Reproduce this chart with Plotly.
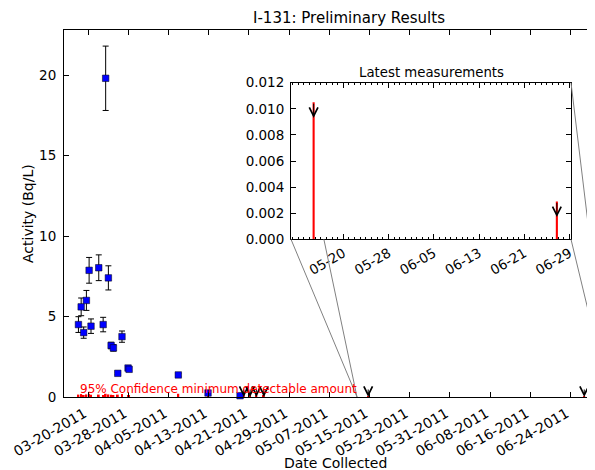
import plotly.graph_objects as go
import pandas as pd

# ---------------- data ----------------
det_dates = ["2011-03-18 02:00", "2011-03-18 15:00", "2011-03-19 03:00", "2011-03-19 16:00",
             "2011-03-20 05:00", "2011-03-20 14:00", "2011-03-22 03:00", "2011-03-23 00:00",
             "2011-03-23 12:00", "2011-03-24 01:00", "2011-03-24 14:00", "2011-03-25 01:00",
             "2011-03-25 22:00", "2011-03-26 18:00", "2011-03-27 23:00", "2011-03-28 04:00",
             "2011-04-06 23:00", "2011-04-12 21:00", "2011-04-19 06:00"]
det_vals = [4.5, 5.6, 4.0, 6.0, 7.87, 4.4, 8.03, 4.5, 19.8, 7.4, 3.2, 3.05, 1.47, 3.75,
            1.8, 1.72, 1.37, 0.25, 0.08]
det_errs = [0.49, 0.55, 0.35, 0.62, 0.8, 0.45, 0.8, 0.45, 2.0, 0.75, 0.2, 0.2, 0.08, 0.35,
            0.1, 0.1, 0.08, 0.05, 0.03]
det_mda = [0.15, 0.18, 0.12, 0.16, 0.2, 0.14, 0.15, 0.12, 0.2, 0.16, 0.14, 0.12, 0.15, 0.18,
           0.12, 0.1, 0.2, 0.3, 0.15]

nd_dates = ["2011-04-20 00:00", "2011-04-21 06:00", "2011-04-22 12:00", "2011-04-24 00:00",
            "2011-05-14 18:00", "2011-06-26 18:00"]
nd_mda = [0.12, 0.10, 0.14, 0.10, 0.0105, 0.0029]
arrow_len = 0.0012

main_ticks = pd.date_range("2011-03-20", "2011-06-24", freq="8D")
main_ticktext = [d.strftime("%m-%d-%Y") + "\u00a0" for d in main_ticks]
inset_ticks = pd.date_range("2011-05-20", "2011-06-29", freq="8D")
inset_ticktext = [d.strftime("%m-%d") for d in inset_ticks]

main_xrange = ["2011-03-15 05:00", "2011-06-28 21:30"]
main_yrange = [0, 22.8]
inset_xrange = ["2011-05-10 18:00", "2011-06-29 06:00"]
inset_yrange = [0, 0.012]
inset_yticks = [0, 0.002, 0.004, 0.006, 0.008, 0.010, 0.012]

# ---------------- layout geometry ----------------
# the page body adds an 8px offset; page pixels are mapped accordingly
OFF = 8
W, H = 595 - OFF, 470 - OFF
ML, MR, MT, MB = 64 - OFF, 0, 30 - OFF, 73
PW, PH = W - ML - MR, H - MT - MB


def px(x):
    return (x - OFF - ML) / PW


def py(y):
    return (H - MB - (y - OFF)) / PH


def ycont(y):
    return 1 - (y - OFF) / H


ix0, ix1 = px(291), px(571)
iy0, iy1 = py(239.3), py(82.7)

FONT = "DejaVu Sans"

fig = go.Figure()

all_dates = det_dates + nd_dates
all_mda = det_mda + nd_mda

# MDA bars (main)
fig.add_trace(go.Bar(x=all_dates, y=all_mda, width=3.2e7, marker=dict(color="red", line=dict(width=0)),
                     xaxis="x", yaxis="y", showlegend=False))
# detections (main)
fig.add_trace(go.Scatter(x=det_dates, y=det_vals, mode="markers",
                         marker=dict(symbol="square", size=6.5, color="blue", line=dict(color="black", width=0.5)),
                         error_y=dict(type="data", array=det_errs, color="black", thickness=1, width=3),
                         xaxis="x", yaxis="y", showlegend=False, cliponaxis=False))
# MDA bars (inset)
fig.add_trace(go.Bar(x=all_dates, y=all_mda, width=3.2e7, marker=dict(color="red", line=dict(width=0)),
                     xaxis="x2", yaxis="y2", showlegend=False))
fig.add_trace(go.Scatter(x=det_dates, y=det_vals, mode="markers",
                         marker=dict(symbol="square", size=6.5, color="blue", line=dict(color="black", width=0.5)),
                         xaxis="x2", yaxis="y2", showlegend=False))

annotations = []
# upper-limit arrows
t0, t1 = pd.Timestamp(inset_xrange[0]), pd.Timestamp(inset_xrange[1])
for d, m in zip(nd_dates, nd_mda):
    annotations.append(dict(x=d, y=0, xref="x", yref="y", ax=0, ay=-9, showarrow=True,
                            arrowhead=5, arrowsize=1.7, arrowwidth=1, arrowcolor="black", text=""))
    if t0 <= pd.Timestamp(d) <= t1:
        annotations.append(dict(x=d, y=m - arrow_len, xref="x2", yref="y2", ax=d, ay=m,
                                axref="x2", ayref="y2", showarrow=True, arrowhead=5, arrowsize=1.7,
                                arrowwidth=1, arrowcolor="black", text=""))

annotations += [
    dict(text="95% Confidence minimum detectable amount", x=px(78), y=0, xref="paper", yref="paper",
         xanchor="left", yanchor="bottom", showarrow=False, font=dict(family=FONT, size=12, color="red"),
         yshift=-1),
    dict(text="Latest measurements", x=(ix0 + ix1) / 2, y=py(72), xref="paper", yref="paper",
         xanchor="center", yanchor="middle", showarrow=False, font=dict(family=FONT, size=13.3, color="black")),
    dict(text="Activity (Bq/L)", x=px(28), y=py(214), xref="paper", yref="paper", textangle=-90,
         xanchor="center", yanchor="middle", showarrow=False, font=dict(family=FONT, size=14, color="black")),
    dict(text="Date Collected", x=px(335), y=py(463), xref="paper", yref="paper",
         xanchor="center", yanchor="middle", showarrow=False, font=dict(family=FONT, size=14, color="black")),
]

# connector lines (inset -> main zoom region)
tl, tr = px(357), px(609)
t = (iy1 - iy0) / iy1
shapes = [
    dict(type="line", xref="paper", yref="paper", x0=ix0 + t * (tl - ix0), y0=iy0, x1=tl, y1=0,
         line=dict(color="gray", width=1)),
    dict(type="line", xref="paper", yref="paper", x0=ix0, y0=iy0, x1=tl, y1=0,
         line=dict(color="gray", width=1)),
    dict(type="line", xref="paper", yref="paper", x0=ix1, y0=iy1, x1=tr, y1=0,
         line=dict(color="gray", width=1)),
    dict(type="line", xref="paper", yref="paper", x0=ix1, y0=iy0, x1=tr, y1=0,
         line=dict(color="gray", width=1)),
]

tickfont = dict(family=FONT, size=13.5, color="black")
fig.update_layout(
    width=W, height=H, margin=dict(l=ML, r=MR, t=MT, b=MB, autoexpand=False),
    paper_bgcolor="white", plot_bgcolor="white", barmode="overlay", showlegend=False,
    title=dict(text="I-131: Preliminary Results", x=px(349), xref="paper", xanchor="center",
               y=ycont(18), yref="container", yanchor="middle",
               font=dict(family=FONT, size=15, color="black")),
    xaxis=dict(type="date", range=main_xrange, tickvals=list(main_ticks), ticktext=main_ticktext,
               tickangle=-30, ticks="inside", ticklen=5, tickcolor="black", showline=True,
               linecolor="black", linewidth=1, mirror="ticks", showgrid=False, zeroline=False,
               tickfont=dict(family=FONT, size=14, color="black"), automargin=False,
               domain=[0, 1], anchor="y"),
    yaxis=dict(range=main_yrange, tickvals=[0, 5, 10, 15, 20], ticks="inside", ticklen=5,
               tickcolor="black", showline=True, linecolor="black", linewidth=1, mirror=False,
               showgrid=False, zeroline=False, tickfont=tickfont, automargin=False,
               ticklabelstandoff=4, domain=[0, 1], anchor="x"),
    xaxis2=dict(type="date", range=inset_xrange, tickvals=list(inset_ticks), ticktext=inset_ticktext,
                tickangle=-30, ticks="inside", ticklen=5, tickcolor="black", showline=True,
                linecolor="black", linewidth=1, mirror="allticks", showgrid=False, zeroline=False,
                tickfont=tickfont, automargin=False, domain=[ix0, ix1], anchor="y2",
                minor=dict(ticks="inside", ticklen=2.5, tickcolor="black", dtick=86400000,
                           tick0="2011-05-10", showgrid=False)),
    yaxis2=dict(range=inset_yrange, tickvals=inset_yticks, tickformat=".3f", ticks="inside", ticklen=5,
                tickcolor="black", showline=True, linecolor="black", linewidth=1, mirror="ticks",
                showgrid=False, zeroline=False, tickfont=tickfont, automargin=False,
                ticklabelstandoff=3, domain=[iy0, iy1], anchor="x2"),
    annotations=annotations,
    shapes=shapes,
)

fig.write_html("out.html")
